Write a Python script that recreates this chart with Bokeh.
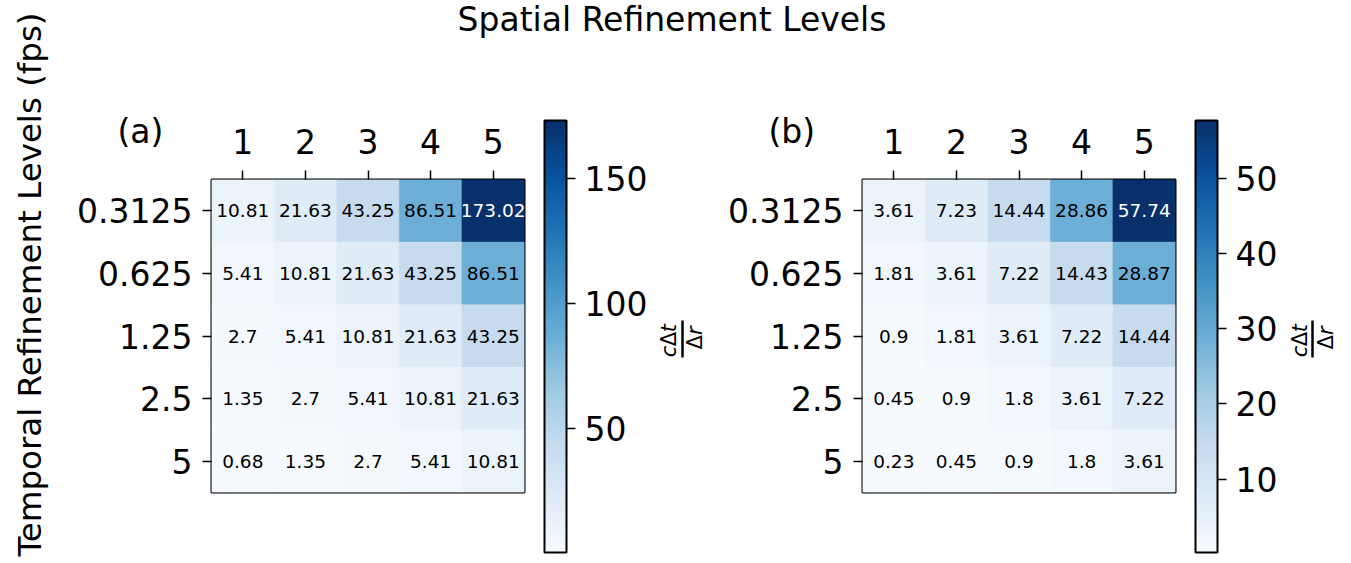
import math
from bokeh.plotting import figure
from bokeh.models import (ColumnDataSource, LinearColorMapper, ColorBar, FixedTicker,
                          Label, Arrow, FactorRange, Range1d, Title)
from bokeh.layouts import row, column
from bokeh.palettes import Blues256
from bokeh.core.properties import value
from bokeh.embed import file_html
from bokeh.resources import INLINE

# ---------------- data ----------------
spatial_levels = ["1", "2", "3", "4", "5"]
temporal_levels = ["0.3125", "0.625", "1.25", "2.5", "5"]

values_a = [
    [10.81, 21.63, 43.25, 86.51, 173.02],
    [5.41, 10.81, 21.63, 43.25, 86.51],
    [2.7, 5.41, 10.81, 21.63, 43.25],
    [1.35, 2.7, 5.41, 10.81, 21.63],
    [0.68, 1.35, 2.7, 5.41, 10.81],
]
values_b = [
    [3.61, 7.23, 14.44, 28.86, 57.74],
    [1.81, 3.61, 7.22, 14.43, 28.87],
    [0.9, 1.81, 3.61, 7.22, 14.44],
    [0.45, 0.9, 1.8, 3.61, 7.22],
    [0.23, 0.45, 0.9, 1.8, 3.61],
]
cbar_ticks_a = [50, 100, 150]
cbar_ticks_b = [10, 20, 30, 40, 50]

title_text = "Spatial Refinement Levels"
ylabel_text = "Temporal Refinement Levels (fps)"

FONT = "DejaVu Sans"
BIG_FS = "33px"
CELL_FS = "18.5px"
PALETTE = list(reversed(Blues256))

ROW_H = 514  # height of the panel row


def blank_fig(width, height):
    f = figure(width=width, height=height, x_range=Range1d(0, 1), y_range=Range1d(0, 1),
               x_axis_location=None, y_axis_location=None, min_border=0,
               toolbar_location=None, tools="", output_backend="svg")
    f.outline_line_color = None
    f.xgrid.visible = False
    f.ygrid.visible = False
    return f


def heatmap(values, letter, min_left, min_right):
    vmax = max(max(r) for r in values)
    vmin = min(min(r) for r in values)
    xs, ys, vs, txt, tc = [], [], [], [], []
    for i, t in enumerate(temporal_levels):
        for j, s in enumerate(spatial_levels):
            v = values[i][j]
            xs.append(s)
            ys.append(t)
            vs.append(v)
            txt.append(str(v))
            tc.append("white" if v > 0.75 * vmax else "black")
    src = ColumnDataSource(dict(x=xs, y=ys, v=vs, label=txt, tc=tc))
    mapper = LinearColorMapper(palette=PALETTE, low=vmin, high=vmax)

    p = figure(x_range=FactorRange(*spatial_levels),
               y_range=FactorRange(*reversed(temporal_levels)),
               frame_width=313, frame_height=313,
               min_border_left=min_left, min_border_right=min_right,
               min_border_top=131, min_border_bottom=ROW_H - 131 - 313,
               x_axis_location="above", toolbar_location=None, tools="",
               output_backend="svg")
    p.rect(x="x", y="y", width=1, height=1, source=src,
           fill_color={"field": "v", "transform": mapper},
           line_color={"field": "v", "transform": mapper}, line_width=0.5)
    p.text(x="x", y="y", text="label", text_color="tc", source=src,
           text_align="center", text_baseline="middle",
           text_font=value(FONT), text_font_size=CELL_FS)

    for ax in (p.xaxis[0], p.yaxis[0]):
        ax.axis_line_color = None
        ax.major_tick_out = 9
        ax.major_tick_in = 0
        ax.major_tick_line_width = 1.5
        ax.major_tick_line_color = "black"
        ax.minor_tick_line_color = None
        ax.major_label_text_font = FONT
        ax.major_label_text_font_size = BIG_FS
        ax.major_label_text_color = "black"
    p.xaxis[0].major_label_standoff = 17
    p.yaxis[0].major_label_standoff = 10
    p.xgrid.visible = False
    p.ygrid.visible = False
    p.outline_line_color = "black"
    p.outline_line_width = 2
    p.outline_line_alpha = 1

    # panel letter, left of the top axis labels
    p.add_layout(Title(text=letter, align="left", offset=-94, standoff=-50,
                       text_font=FONT, text_font_size=BIG_FS, text_font_style="normal",
                       text_color="black"), "above")
    return p, mapper


def colorbar_fig(width, mapper, cticks, bar_x, num_x, line_x, den_x):
    # the frame of this figure is aligned with the heatmap frame (y 0 = frame bottom)
    f = blank_fig(width, ROW_H)
    cb = ColorBar(color_mapper=mapper, ticker=FixedTicker(ticks=cticks),
                  orientation="vertical", location=(bar_x, -60), width=22, height=432,
                  padding=0, bar_line_color="black", bar_line_width=2,
                  major_tick_out=9, major_tick_in=0, major_tick_line_color="black",
                  major_tick_line_width=1.5, minor_tick_line_color=None,
                  label_standoff=9, major_label_text_font=FONT,
                  major_label_text_font_size=BIG_FS, major_label_text_color="black",
                  background_fill_alpha=0, border_line_color=None)
    f.add_layout(cb)
    # label  c\Delta t / \Delta r  (rotated fraction)
    for txt, y, style in [("c", 141, "italic"), ("Δ", 153.5, "normal"), ("t", 164.4, "italic")]:
        f.add_layout(Label(x=num_x, y=y, x_units="screen", y_units="screen", text=txt,
                           angle=math.pi / 2, text_align="center", text_baseline="middle",
                           text_font=FONT, text_font_size="21px", text_font_style=style,
                           text_color="black"))
    f.add_layout(Arrow(x_start=line_x, y_start=135, x_end=line_x, y_end=172,
                       start_units="screen", end_units="screen", start=None, end=None,
                       line_color="black", line_width=2.5))
    for txt, y, style in [("Δ", 150.2, "normal"), ("r", 161.7, "italic")]:
        f.add_layout(Label(x=den_x, y=y, x_units="screen", y_units="screen", text=txt,
                           angle=math.pi / 2, text_align="center", text_baseline="middle",
                           text_font=FONT, text_font_size="21px", text_font_style=style,
                           text_color="black"))
    return f


pa, map_a = heatmap(values_a, "(a)", 161, 6)
pb, map_b = heatmap(values_b, "(b)", 142, 5)
cba = colorbar_fig(190, map_a, cbar_ticks_a, 14, 138.4, 152, 164.4)
cbb = colorbar_fig(170, map_b, cbar_ticks_b, 15, 119, 132, 145)

title_fig = blank_fig(1300, 48)
title_fig.add_layout(Label(x=621.5, y=29, x_units="screen", y_units="screen", text=title_text,
                           text_align="center", text_baseline="middle",
                           text_font=FONT, text_font_size=BIG_FS, text_color="black"))

ylab = blank_fig(50, 48 + ROW_H)
ylab.add_layout(Label(x=29.5, y=48 + ROW_H - 284, x_units="screen", y_units="screen",
                      text=ylabel_text, angle=math.pi / 2, text_align="center",
                      text_baseline="middle", text_font=FONT, text_font_size="32.5px",
                      text_color="black"))

layout = row(ylab, column(title_fig, row(pa, cba, pb, cbb)))
open("out.html", "w").write(file_html(layout, INLINE, title="Refinement Levels"))
